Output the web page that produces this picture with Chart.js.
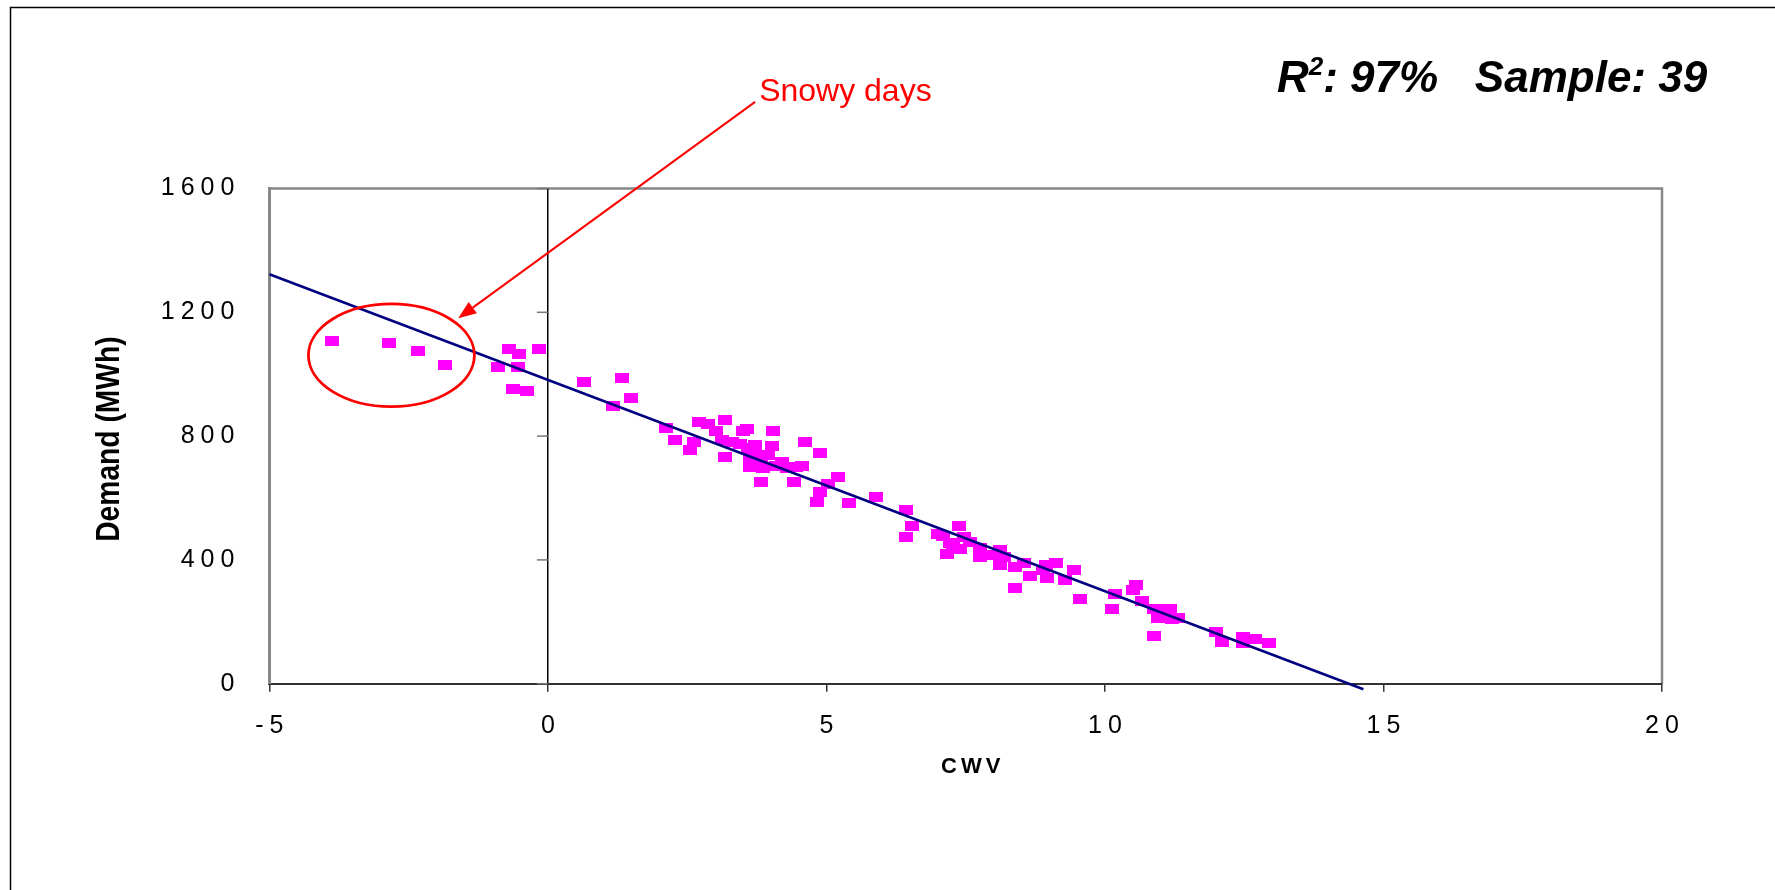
<!DOCTYPE html>
<html><head><meta charset="utf-8">
<script src="https://cdn.jsdelivr.net/npm/chart.js@4/dist/chart.umd.min.js"></script>
<style>html,body{margin:0;padding:0;background:#fff;overflow:hidden}#wrap{width:1775px;height:890px;position:relative}</style>
</head><body><div id="wrap"><canvas id="c" width="1775" height="890"></canvas></div>
<script>
// ---- data ----
const cwv = [-3.87,-2.86,-2.33,-1.85,-0.90,-0.69,-0.52,-0.53,-0.63,-0.37,-0.16,
  0.64,1.33,1.49,1.16,2.12,2.28,2.55,2.62,2.71,2.87,3.02,3.18,3.13,3.18,
  3.50,3.57,3.30,3.45,3.72,4.04,4.03,3.63,3.63,3.82,3.87,3.82,4.20,4.29,4.41,4.61,4.88,4.56,3.70,3.95,3.60,4.10,4.45,3.75,
  5.20,5.03,4.89,4.83,5.41,5.89,6.42,6.53,6.42,7.01,7.38,7.21,7.16,7.39,7.47,7.58,7.75,7.75,7.94,8.12,8.18,8.12,8.39,8.54,8.66,8.38,8.89,8.96,7.28,7.10,
  8.95,9.12,9.28,9.45,9.55,10.18,10.13,10.56,10.50,10.66,10.88,11.17,10.96,11.20,11.31,10.88,12.00,12.10,12.47,12.47,12.69,12.95,11.05,11.00];
const demand = [1108,1102,1074,1031,1023,1080,1066,1024,952,946,1080,
  974,989,924,896,825,788,755,781,845,838,815,853,787,732,
  817,824,782,775,771,817,768,733,699,723,696,653,717,696,653,782,745,703,745,740,760,705,700,710,
  669,645,618,588,583,604,561,510,475,483,510,454,418,434,475,459,437,410,416,432,410,384,376,389,348,310,367,341,445,478,
  384,391,335,367,275,290,240,318,303,268,240,240,211,208,211,154,168,136,152,132,143,132,225,240];
const trendCwv = [-5, 14.64];
const trendDemand = [1323, -18];
const xTickValues = [-5, 0, 5, 10, 15, 20];
const yTickValues = [0, 400, 800, 1200, 1600];
const xTitle = 'CWV';
const yTitle = 'Demand (MWh)';
const calloutText = 'Snowy days';
const statsR2 = '97%';
const statsSample = '39';
// annotation geometry in data units
const ellipseCenter = [-2.81, 1061];
const ellipseRadii = [1.49, 166];
const arrowFrom = [3.72, 1880];
const arrowTo = [-1.61, 1181];

const FONT = '"Liberation Sans", Arial, Helvetica, sans-serif';
const TICK_SPACING = 6;

const marker = document.createElement('canvas');
marker.width = 14; marker.height = 10;
const mctx = marker.getContext('2d');
mctx.fillStyle = '#FF00FF'; mctx.fillRect(0, 0, 14, 10);

const decor = {
  id: 'decor',
  beforeDraw(chart) {
    const ctx = chart.ctx;
    ctx.save();
    ctx.strokeStyle = '#000'; ctx.lineWidth = 1.5;
    ctx.beginPath(); ctx.moveTo(10.5, 890); ctx.lineTo(10.5, 7.5); ctx.lineTo(1775, 7.5); ctx.stroke();
    const a = chart.chartArea;
    ctx.strokeStyle = '#888'; ctx.lineWidth = 2.5;
    ctx.beginPath(); ctx.moveTo(a.left, a.top); ctx.lineTo(a.right, a.top); ctx.lineTo(a.right, a.bottom); ctx.stroke();
    ctx.restore();
    ctx.letterSpacing = TICK_SPACING + 'px';
  },
  beforeDatasetsDraw(chart) {
    const ctx = chart.ctx;
    ctx.letterSpacing = '0px';
    const xs = chart.scales.x, ys = chart.scales.y;
    const x0 = xs.getPixelForValue(0);
    ctx.save();
    ctx.strokeStyle = '#777'; ctx.lineWidth = 1.5;
    yTickValues.forEach(v => {
      const py = ys.getPixelForValue(v);
      ctx.beginPath(); ctx.moveTo(x0 - 11, py); ctx.lineTo(x0, py); ctx.stroke();
    });
    ctx.restore();
  },
  afterDatasetsDraw(chart) {
    const ctx = chart.ctx;
    const xs = chart.scales.x, ys = chart.scales.y;
    ctx.save();
    ctx.letterSpacing = '0px';
    const cx = xs.getPixelForValue(ellipseCenter[0]), cy = ys.getPixelForValue(ellipseCenter[1]);
    const rx = xs.getPixelForValue(ellipseCenter[0] + ellipseRadii[0]) - cx;
    const ry = cy - ys.getPixelForValue(ellipseCenter[1] + ellipseRadii[1]);
    ctx.strokeStyle = '#FF0000'; ctx.lineWidth = 2.8;
    ctx.beginPath(); ctx.ellipse(cx, cy, rx, ry, 0, 0, Math.PI * 2); ctx.stroke();
    const ax = xs.getPixelForValue(arrowFrom[0]), ay = ys.getPixelForValue(arrowFrom[1]);
    const bx = xs.getPixelForValue(arrowTo[0]), by = ys.getPixelForValue(arrowTo[1]);
    const ang = Math.atan2(by - ay, bx - ax);
    const hl = 18, hw = 7;
    const baseX = bx - hl * Math.cos(ang), baseY = by - hl * Math.sin(ang);
    ctx.lineWidth = 2;
    ctx.beginPath(); ctx.moveTo(ax, ay); ctx.lineTo(baseX, baseY); ctx.stroke();
    ctx.fillStyle = '#FF0000';
    ctx.beginPath();
    ctx.moveTo(bx, by);
    ctx.lineTo(baseX + hw * Math.sin(ang), baseY - hw * Math.cos(ang));
    ctx.lineTo(baseX - hw * Math.sin(ang), baseY + hw * Math.cos(ang));
    ctx.closePath(); ctx.fill();
    ctx.font = '32px ' + FONT;
    ctx.textAlign = 'left'; ctx.textBaseline = 'alphabetic';
    ctx.fillText(calloutText, ax + 4, ay - 1);
    ctx.restore();
  },
  afterDraw(chart) {
    const ctx = chart.ctx;
    const a = chart.chartArea;
    // y axis title (condensed bold)
    ctx.save();
    ctx.letterSpacing = '0px';
    ctx.fillStyle = '#000';
    ctx.font = 'bold 34px ' + FONT;
    ctx.textAlign = 'center'; ctx.textBaseline = 'middle';
    ctx.translate(110, (a.top + a.bottom) / 2 + 3);
    ctx.rotate(-Math.PI / 2);
    ctx.scale(0.83, 1);
    ctx.fillText(yTitle, 0, 0);
    ctx.restore();
    // x axis title
    ctx.save();
    ctx.letterSpacing = '4px';
    ctx.fillStyle = '#000';
    ctx.font = 'bold 22px ' + FONT;
    ctx.textAlign = 'center'; ctx.textBaseline = 'middle';
    ctx.fillText(xTitle, (a.left + a.right) / 2 + 7, a.bottom + 83);
    ctx.restore();
    // stats text
    ctx.save();
    ctx.letterSpacing = '0px';
    ctx.fillStyle = '#000'; ctx.textAlign = 'left'; ctx.textBaseline = 'alphabetic';
    let x = 1277; const base = 92;
    ctx.font = 'italic bold 44px ' + FONT;
    ctx.fillText('R', x, base); x += ctx.measureText('R').width;
    ctx.font = 'italic bold 26px ' + FONT;
    ctx.fillText('2', x, base - 17); x += ctx.measureText('2').width;
    ctx.font = 'italic bold 44px ' + FONT;
    ctx.fillText(': ' + statsR2 + '   Sample: ' + statsSample, x, base);
    ctx.restore();
  }
};

new Chart(document.getElementById('c').getContext('2d'), {
  type: 'scatter',
  data: {
    datasets: [
      { type: 'line', data: trendCwv.map((x, i) => ({ x, y: trendDemand[i] })),
        borderColor: '#000080', borderWidth: 2.5, pointRadius: 0, clip: false, fill: false, tension: 0, order: 0 },
      { data: cwv.map((x, i) => ({ x, y: demand[i] })), pointStyle: marker, pointRadius: 7,
        backgroundColor: '#FF00FF', borderColor: '#FF00FF', order: 1 }
    ]
  },
  options: {
    responsive: false, animation: false, devicePixelRatio: 1,
    layout: { padding: { top: 188.5, right: 113, left: 0, bottom: 0 } },
    plugins: { legend: { display: false }, tooltip: { enabled: false } },
    scales: {
      x: {
        type: 'linear', min: -5, max: 20,
        afterBuildTicks: s => { s.ticks = xTickValues.map(v => ({ value: v })); },
        ticks: { font: { family: FONT, size: 25 }, color: '#000', padding: 19, maxRotation: 0, autoSkip: false,
                 labelOffset: TICK_SPACING / 2, callback: v => String(v) },
        grid: { color: c => (c.tick && c.tick.value === 0) ? '#000' : 'rgba(0,0,0,0)', lineWidth: 1.5,
                tickColor: '#333', tickLength: 8, tickWidth: 1.5, drawOnChartArea: true },
        border: { color: '#333', width: 2 },
        title: { display: false },
        afterFit: s => { s.height = 206.3; }
      },
      y: {
        type: 'linear', min: 0, max: 1600,
        afterBuildTicks: s => { s.ticks = yTickValues.map(v => ({ value: v })); },
        ticks: { font: { family: FONT, size: 25 }, color: '#000', padding: 29, callback: v => String(v) },
        grid: { display: true, drawOnChartArea: false, drawTicks: false },
        border: { color: '#888', width: 3 },
        afterFit: s => { s.width = 269.4; }
      }
    }
  },
  plugins: [decor]
});
</script></body></html>
